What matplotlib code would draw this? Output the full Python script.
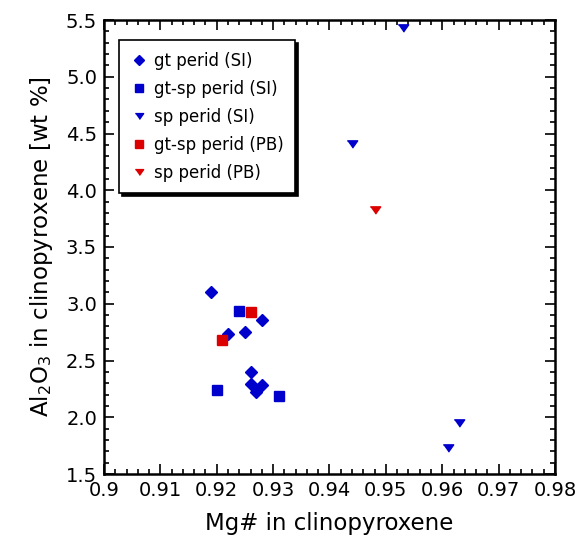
import matplotlib
matplotlib.use("Agg")
import matplotlib.pyplot as plt
from matplotlib.ticker import MultipleLocator, FixedLocator, FixedFormatter

# Data
gt_SI_x = [0.919, 0.928, 0.922, 0.925, 0.926, 0.926, 0.928, 0.927]
gt_SI_y = [3.10, 2.86, 2.73, 2.75, 2.40, 2.29, 2.28, 2.22]

gtsp_SI_x = [0.924, 0.920, 0.931]
gtsp_SI_y = [2.94, 2.24, 2.19]

sp_SI_x = [0.953, 0.944, 0.963, 0.961]
sp_SI_y = [5.43, 4.41, 1.95, 1.73]

gtsp_PB_x = [0.926, 0.921]
gtsp_PB_y = [2.93, 2.68]

sp_PB_x = [0.948]
sp_PB_y = [3.83]

xticks = [0.9, 0.91, 0.92, 0.93, 0.94, 0.95, 0.96, 0.97, 0.98]
xticklabels = ["0.9", "0.91", "0.92", "0.93", "0.94", "0.95", "0.96", "0.97", "0.98"]
yticks = [1.5, 2.0, 2.5, 3.0, 3.5, 4.0, 4.5, 5.0, 5.5]
yticklabels = ["1.5", "2.0", "2.5", "3.0", "3.5", "4.0", "4.5", "5.0", "5.5"]

plt.rcParams['font.family'] = ['DejaVu Sans']

fig = plt.figure(figsize=(5.8, 5.51), dpi=100)
ax = fig.add_axes([104/580, 1-474/551, 451/580, 454/551])

blue = '#0000CC'
red = '#DD0000'
tri = [(-1, 0.7), (1, 0.7), (0, -0.7)]

ax.plot(gt_SI_x, gt_SI_y, 'D', color=blue, ms=6, mec=blue, ls='none', label='gt perid (SI)')
ax.plot(gtsp_SI_x, gtsp_SI_y, 's', color=blue, ms=7.2, mec=blue, ls='none', label='gt-sp perid (SI)')
ax.plot(sp_SI_x, sp_SI_y, marker=tri, color=blue, ms=7.5, mec=blue, ls='none', label='sp perid (SI)')
ax.plot(gtsp_PB_x, gtsp_PB_y, 's', color=red, ms=7.2, mec=red, ls='none', label='gt-sp perid (PB)')
ax.plot(sp_PB_x, sp_PB_y, marker=tri, color=red, ms=7.5, mec=red, ls='none', label='sp perid (PB)')

ax.set_xlim(0.9, 0.98)
ax.set_ylim(1.5, 5.5)
ax.xaxis.set_major_locator(FixedLocator(xticks))
ax.xaxis.set_major_formatter(FixedFormatter(xticklabels))
ax.yaxis.set_major_locator(FixedLocator(yticks))
ax.yaxis.set_major_formatter(FixedFormatter(yticklabels))
ax.xaxis.set_minor_locator(MultipleLocator(0.002))
ax.yaxis.set_minor_locator(MultipleLocator(0.1))
ax.tick_params(which='both', direction='in', top=True, right=True, labelsize=14, width=1.2)
ax.tick_params(which='major', length=7, pad=5)
ax.tick_params(which='minor', length=3.5)
for s in ax.spines.values():
    s.set_linewidth(1.8)

ax.set_xlabel('Mg# in clinopyroxene', fontsize=16.5, labelpad=9)
ax.set_ylabel(r'Al$_\mathregular{2}$O$_\mathregular{3}$ in clinopyroxene [wt %]', fontsize=16.5, labelpad=8)

leg = ax.legend(loc='upper left', bbox_to_anchor=(15/451, 1-20/454), borderaxespad=0,
                fancybox=False, shadow={'color': 'black', 'alpha': 1, 'ox': 2, 'oy': -2},
                framealpha=1, edgecolor='black', fontsize=12, labelspacing=0.6,
                handletextpad=0.4, handlelength=1.0, borderpad=0.7, markerscale=0.8)
leg.get_frame().set_linewidth(1.2)

fig.savefig('out.png', dpi=100)
